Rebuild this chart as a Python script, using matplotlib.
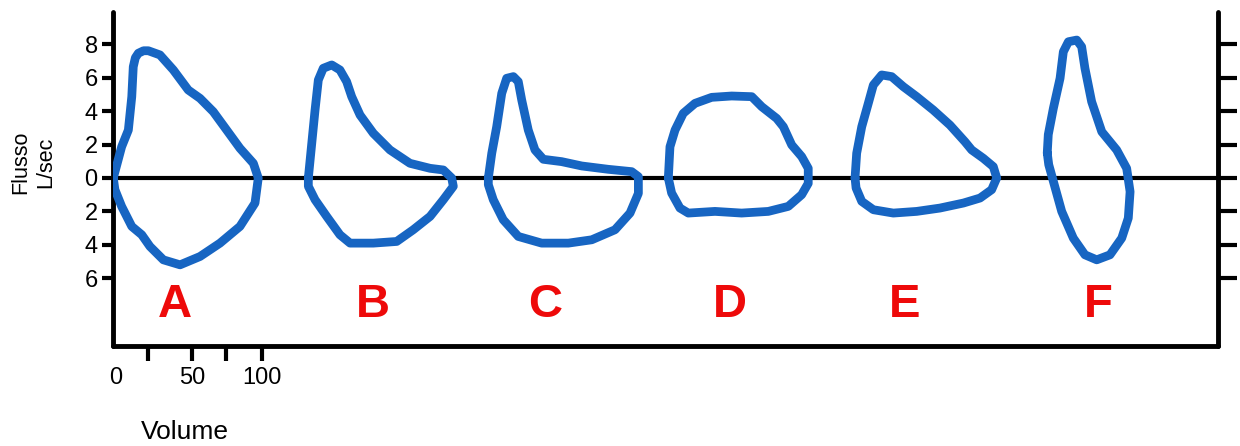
import numpy as np
import matplotlib
matplotlib.use("Agg")
import matplotlib.pyplot as plt

plt.rcParams['font.family'] = ['Liberation Sans', 'DejaVu Sans']

# flow-volume loops (volume, flow L/sec)
a_vol = [0.2, 5.8, 10.3, 12.6, 13.6, 15.0, 17.0, 20.5, 23.7, 31.5, 40.5, 50.5, 58.4, 67.3, 76.3, 85.2,
         94.2, 97.5, 95.3, 85.2, 71.8, 58.4, 45.0, 33.8, 24.8, 19.3, 12.6, 5.8, 1.3]
a_flow = [0, 1.87, 2.87, 4.87, 6.66, 7.2, 7.47, 7.62, 7.62, 7.37, 6.47, 5.27, 4.77, 3.97, 2.87, 1.78,
          0.88, 0, -1.5, -2.9, -3.9, -4.7, -5.2, -4.9, -4.1, -3.4, -2.9, -1.7, -0.7]

b_vol = [131.1, 133.4, 135.6, 137.8, 141.1, 146.8, 152.3, 156.8, 160.2, 165.8, 174.7, 185.9, 199.3,
         212.8, 221.7, 227.3, 228.4, 221.7, 212.8, 201.5, 190.4, 174.7, 159.1, 152.3, 143.4, 135.6, 131.1]
b_flow = [0, 2.08, 4.07, 5.87, 6.57, 6.77, 6.47, 5.77, 4.87, 3.77, 2.68, 1.68, 0.88,
          0.58, 0.48, 0, -0.5, -1.3, -2.3, -3.1, -3.8, -3.9, -3.9, -3.4, -2.3, -1.3, -0.5]

c_vol = [251.9, 254.2, 257.5, 260.9, 264.2, 268.7, 272.0, 274.3, 278.7, 283.2, 288.8, 301.1, 314.6,
         332.4, 348.1, 352.6, 352.6, 347.0, 336.9, 321.3, 305.6, 287.7, 272.0, 261.9, 255.2, 251.9]
c_flow = [0, 1.48, 3.07, 5.07, 5.97, 6.07, 5.77, 4.67, 2.87, 1.68, 1.12, 0.98, 0.72,
          0.52, 0.38, 0.08, -0.92, -2.1, -3.1, -3.7, -3.9, -3.9, -3.5, -2.5, -1.3, -0.4]

d_vol = [372.7, 373.8, 377.2, 382.7, 390.6, 401.8, 415.2, 428.7, 435.4, 445.4, 449.9, 455.5, 462.2,
         466.6, 466.6, 462.2, 453.2, 439.8, 421.9, 404.0, 386.1, 380.5, 374.9]
d_flow = [0, 1.87, 2.87, 3.87, 4.47, 4.83, 4.91, 4.87, 4.27, 3.57, 3.07, 1.98, 1.28,
          0.58, -0.32, -1.0, -1.7, -2.0, -2.1, -2.0, -2.1, -1.8, -0.9]

e_vol = [498.0, 499.1, 502.5, 506.9, 510.3, 515.9, 522.6, 530.4, 539.4, 550.5, 561.7, 571.8, 576.3,
         584.1, 590.8, 593.1, 589.7, 581.9, 570.7, 555.0, 539.4, 523.7, 510.3, 502.5, 498.7]
e_flow = [0, 1.48, 3.07, 4.47, 5.57, 6.17, 6.07, 5.47, 4.87, 4.07, 3.17, 2.17, 1.68,
          1.18, 0.68, 0, -0.7, -1.2, -1.5, -1.8, -2.0, -2.1, -1.9, -1.4, -0.6]

f_vol = [627.0, 627.7, 631.1, 635.6, 637.8, 641.2, 646.8, 650.1, 652.3, 656.8, 663.6, 673.6, 680.3,
         682.6, 681.4, 677.0, 669.1, 660.2, 652.3, 644.5, 636.7, 631.1, 628.0]
f_flow = [1.5, 2.6, 4.17, 5.97, 7.56, 8.16, 8.26, 7.86, 6.57, 4.57, 2.77, 1.68, 0.58,
          -0.82, -2.4, -3.6, -4.6, -4.9, -4.6, -3.6, -2.0, -0.2, 0.8]

loops = [(a_vol, a_flow), (b_vol, b_flow), (c_vol, c_flow),
         (d_vol, d_flow), (e_vol, e_flow), (f_vol, f_flow)]

letters = ['A', 'B', 'C', 'D', 'E', 'F']
letter_x = [41.6, 174.5, 290.0, 414.0, 531.5, 661.0]

flow_ticks = [8, 6, 4, 2, 0, -2, -4, -6]
flow_labels = ['8', '6', '4', '2', '0', '2', '4', '6']
vol_ticks = [23.5, 53, 76, 100]
vol_labels = ['', '50', '', '100']

fig = plt.figure(figsize=(12.4, 4.46), dpi=100)
ax = fig.add_axes([113 / 1240, 100 / 446, 1105 / 1240, 334 / 446])

blue = '#1765c2'
for vol, flow in loops:
    ax.plot(vol + vol[:1], flow + flow[:1], color=blue, lw=6.3,
            solid_joinstyle='round', solid_capstyle='round', zorder=3)

ax.axhline(0, color='black', lw=3, zorder=2)

for lt, lx in zip(letters, letter_x):
    ax.text(lx, -7.6, lt, color='#ee0a0a', fontsize=34, fontweight='heavy',
            ha='center', va='center')

ax.set_xlim(0, 741.6)
ax.set_ylim(-10.06, 9.94)

for side in ['left', 'bottom', 'right']:
    ax.spines[side].set_linewidth(3.5)
    ax.spines[side].set_capstyle('round')
ax.spines['top'].set_visible(False)

ax.set_yticks(flow_ticks, flow_labels)
ax.tick_params(axis='y', direction='out', length=8, width=3, labelsize=17, pad=3)
ax.set_xticks(vol_ticks, vol_labels)
ax.set_xticks([1.5], ['0'], minor=True)
ax.tick_params(axis='x', which='major', direction='out', length=11, width=3, labelsize=17, pad=4)
ax.tick_params(axis='x', which='minor', length=0, labelsize=17, pad=15)

# right axis: same ticks, longer, no labels
ax2 = ax.twinx()
ax2.set_ylim(ax.get_ylim())
ax2.set_yticks(flow_ticks)
ax2.tick_params(axis='y', direction='out', length=14, width=3, labelright=False)
for side in ['left', 'bottom', 'top', 'right']:
    ax2.spines[side].set_visible(False)

fig.text(33 / 1240, 1 - 162 / 446, 'Flusso\nL/sec', rotation=90, ha='center', va='center',
         fontsize=15.5, multialignment='center', linespacing=1.25)
fig.text(185 / 1240, 1 - 432 / 446, 'Volume', ha='center', va='center', fontsize=19)

fig.savefig('out.png', dpi=100)
